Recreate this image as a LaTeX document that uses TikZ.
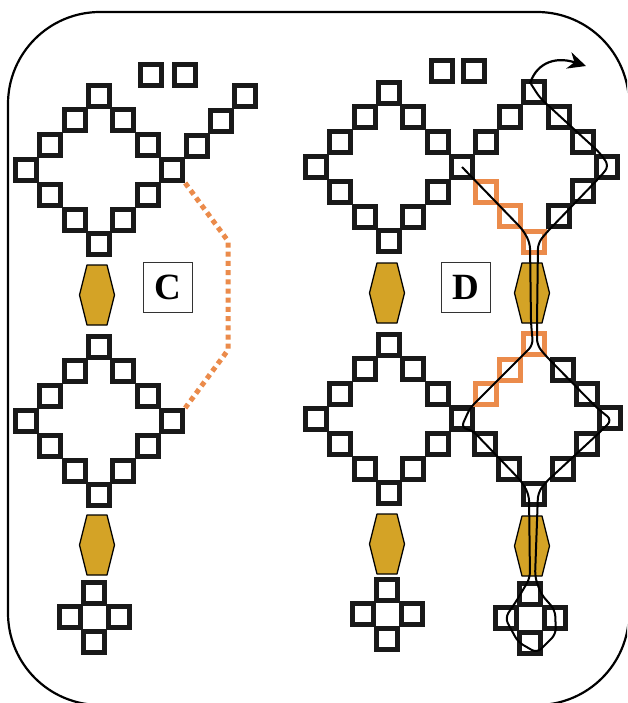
\documentclass[tikz,border=0pt]{standalone}
\usepackage{fontspec}
\setmainfont{Liberation Serif}
\usetikzlibrary{arrows.meta}
\definecolor{beadgold}{HTML}{D4A326}
\definecolor{beadorange}{HTML}{EB8B4B}
\tikzset{
  sqbox/.style={draw=black!90,line width=5pt,minimum size=21pt,inner sep=0pt},
  orbox/.style={draw=beadorange,line width=4.2pt,minimum size=21pt,inner sep=0pt},
  hexbead/.style={fill=beadgold,draw=black,line width=1.3pt,line join=round},
  letterbox/.style={draw=black!80,line width=.8pt,minimum width=49pt,minimum height=50pt,inner sep=0pt,font=\fontsize{37}{37}\selectfont\bfseries},
  threadline/.style={draw=black,line width=2pt,rounded corners=6pt},
  dotline/.style={draw=beadorange,line width=5pt,dash pattern=on 5pt off 4.2pt}
}
\begin{document}
\begin{tikzpicture}[x=1pt,y=-1pt]
  \useasboundingbox (0,0) rectangle (627,703);
  \clip (0,0) rectangle (627,703);
  \fill [white] (0,0) rectangle (627,703);
  % frame
  \draw [line width=2.2pt,rounded corners=92pt] (8,12) rectangle (629,705);
  % full rings
  \foreach \ring/\cx/\cy in {ca/99/170,cb/99/421,da/389/167,db/389/419}{
    \foreach \i/\dx/\dy in {a/0/-3,b/1/-2,c/2/-1,d/3/0,e/2/1,f/1/2,g/0/3,h/-1/2,i/-2/1,j/-3/0,k/-2/-1,l/-1/-2}{
      \node [sqbox] (\ring-\i) at ({\cx+\dx*24.4},{\cy+\dy*24.8}) {};
    }
  }
  % ring with the orange part, upper
  \foreach \i/\x/\y in {a/534/92,b/559/117,c/583/142,d/607/167,e/583/191,f/559/216,j/462/167,k/486/142,l/510/117}{
    \node [sqbox] (ea-\i) at (\x,\y) {};
  }
  \foreach \i/\x/\y in {g/534/242,h/510/216,i/486/192}{
    \node [orbox] (ea-\i) at (\x,\y) {};
  }
  % ring with the orange part, lower
  \foreach \i/\x/\y in {b/563/370,c/587/394,d/610/418,e/587/444,f/563/469,g/534/494,h/509/469,i/485/444,j/462/418}{
    \node [sqbox] (eb-\i) at (\x,\y) {};
  }
  \foreach \i/\x/\y in {a/534/344,l/510/370,k/486/394}{
    \node [orbox] (eb-\i) at (\x,\y) {};
  }
  % crosses
  \foreach \n/\x/\y in {cc/94/617,dc/387/614,ec/530/618}{
    \node [sqbox] (\n-t) at (\x,\y-24.5) {};
    \node [sqbox] (\n-l) at (\x-24.5,\y) {};
    \node [sqbox] (\n-r) at (\x+24.5,\y) {};
    \node [sqbox] (\n-b) at (\x,\y+24.5) {};
  }
  % loose squares
  \foreach \n/\x/\y in {cp/151/75,cq/185/75,dp/442/71,dq/474/71,cr/197/146,cs/221/121,ct/245/96}{
    \node [sqbox] (\n) at (\x,\y) {};
  }
  % beads
  \foreach \x/\y in {97/295,97/545,387/293,387/544,532/293,532/546}{
    \draw [hexbead] (\x-10,\y-30) -- (\x+10,\y-30) -- (\x+17.5,\y) -- (\x+10,\y+30) -- (\x-10,\y+30) -- (\x-17.5,\y) -- cycle;
  }
  \node [letterbox] (letterC) at (167.5,287) {C};
  \node [letterbox] (letterD) at (465.5,287) {D};
  % dotted link
  \coordinate (bendtop) at (228,241);
  \coordinate (bendlow) at (228,350);
  \draw [dotline] (ca-d.south east) -- (bendtop) -- (bendlow) -- (cb-d.north east);
  % thread
  \path [threadline] (462,167) -- (523,230) -- (530,243) -- (531,323) -- (533,345)
    -- (470,408) -- (461,428) -- (472,430) -- (522,482) -- (529,495) -- (530,578)
    -- (517,600) -- (505,618) -- (518,642) -- (537,653) -- (556,634) -- (555,610)
    -- (541,594) -- (535,577) -- (538,493) -- (545,483) -- (600,432) -- (612,420)
    -- (597,408) -- (545,355) -- (537,345) -- (537,323) -- (538,243) -- (547,232)
    -- (600,177) -- (609,166) -- (600,153) -- (540,98) -- (531,84);
  % arrow off the top
  \coordinate (arrowend) at (586,66);
  \draw [line width=2.2pt,-{Stealth[length=18pt,width=17pt]}] (530,84) .. controls (535,66) and (552,55) .. (arrowend);
\end{tikzpicture}
\end{document}
